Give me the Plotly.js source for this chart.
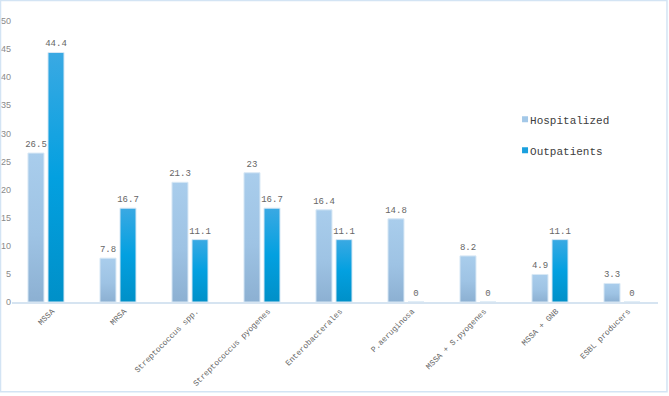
<!DOCTYPE html>
<html>
<head>
<meta charset="utf-8">
<script src="https://cdn.plot.ly/plotly-3.0.1.min.js"></script>
<style>
  html, body { margin: 0; padding: 0; background: #fff; }
  #chart { width: 669px; height: 396px; }
</style>
</head>
<body>
<div id="chart"></div>
<script>
// Pathogens isolated, by patient setting (%)
const categories = [
  "MSSA", "MRSA", "Streptococcus spp.", "Streptococcus pyogenes",
  "Enterobacterales", "P.aeruginosa", "MSSA + S.pyogenes",
  "MSSA + GNB", "ESBL producers"
];
const hospitalized = [26.5, 7.8, 21.3, 23, 16.4, 14.8, 8.2, 4.9, 3.3];
const outpatients  = [44.4, 16.7, 11.1, 16.7, 11.1, 0, 0, 11.1, 0];
const yTicks = [0, 5, 10, 15, 20, 25, 30, 35, 40, 45, 50];

const mono = "Liberation Mono, Courier New, monospace";

const traces = [
  {
    type: "bar", name: "Hospitalized", x: categories, y: hospitalized,
    text: hospitalized.map(String), textposition: "outside", cliponaxis: false,
    constraintext: "none",
    textfont: { family: mono, size: 9, color: "#666666" },
    marker: { color: "#a3c8e8", line: { color: "#d8e8f5", width: 1 } },
    legendgroup: "h", hoverinfo: "x+y"
  },
  {
    type: "bar", name: "Outpatients", x: categories, y: outpatients,
    text: outpatients.map(String), textposition: "outside", cliponaxis: false,
    constraintext: "none",
    textfont: { family: mono, size: 9, color: "#666666" },
    marker: { color: "#1aa0de", line: { color: "#d8e8f5", width: 1 } },
    legendgroup: "o", hoverinfo: "x+y"
  }
];

const layout = {
  width: 669, height: 396,
  margin: { l: 12, r: 11, t: 21, b: 93.5 },
  paper_bgcolor: "#ffffff", plot_bgcolor: "#ffffff",
  barmode: "group", bargap: 0.444, bargroupgap: 0.2,
  showlegend: true,
  legend: {
    x: 0.74, xanchor: "left", y: 0.702, yanchor: "top",
    traceorder: "grouped", tracegroupgap: 12,
    font: { family: mono, size: 11, color: "#404040" },
    bgcolor: "rgba(0,0,0,0)"
  },
  xaxis: {
    type: "category", range: [-0.472, 8.5],
    tickangle: -45, ticks: "", showgrid: false, zeroline: false,
    ticklabelshift: 6,
    showline: true, linecolor: "#d6e4f1", linewidth: 1.5,
    tickfont: { family: mono, size: 8, color: "#666666" },
    automargin: false
  },
  yaxis: {
    range: [0, 50], tickvals: yTicks, ticktext: yTicks.map(String),
    showgrid: false, zeroline: false, showline: false, ticks: "",
    tickfont: { family: "Liberation Sans, Arial, sans-serif", size: 9, color: "#8a8a8a" },
    automargin: false
  },
  shapes: [{
    type: "rect", xref: "paper", yref: "paper",
    x0: -0.0178, x1: 1.0139, y0: -0.3197, y1: 1.0728,
    line: { color: "#d3e4f4", width: 1.5 }, fillcolor: "rgba(0,0,0,0)"
  }]
};

Plotly.newPlot("chart", traces, layout, { displayModeBar: false, staticPlot: true }).then(gd => {
  // vertical gradients for the bar fills
  const svg = gd.querySelector(".main-svg");
  const ns = "http://www.w3.org/2000/svg";
  let defs = svg.querySelector("defs");
  if (!defs) { defs = document.createElementNS(ns, "defs"); svg.insertBefore(defs, svg.firstChild); }
  const grads = {
    gradHosp: [["0%", "#a9cdec"], ["55%", "#9ec3e4"], ["100%", "#8cb0d2"]],
    gradOut:  [["0%", "#3aa9e3"], ["50%", "#03a0e0"], ["100%", "#0090c8"]]
  };
  Object.entries(grads).forEach(([id, stops]) => {
    const g = document.createElementNS(ns, "linearGradient");
    g.setAttribute("id", id);
    g.setAttribute("x1", "0"); g.setAttribute("y1", "0");
    g.setAttribute("x2", "0"); g.setAttribute("y2", "1");
    stops.forEach(([off, col]) => {
      const s = document.createElementNS(ns, "stop");
      s.setAttribute("offset", off); s.setAttribute("stop-color", col);
      g.appendChild(s);
    });
    defs.appendChild(g);
  });
  const ids = ["gradHosp", "gradOut"];
  gd.querySelectorAll(".barlayer .trace").forEach((tr, i) => {
    tr.querySelectorAll(".point path").forEach(p => { p.style.fill = "url(#" + ids[i] + ")"; });
  });
  // smaller legend squares placed right next to their labels
  gd.querySelectorAll(".legend .legendpoints path").forEach(p => {
    p.setAttribute("transform", "translate(35,0) scale(0.5)");
    p.style.strokeWidth = "0";
  });
});
</script>
</body>
</html>
